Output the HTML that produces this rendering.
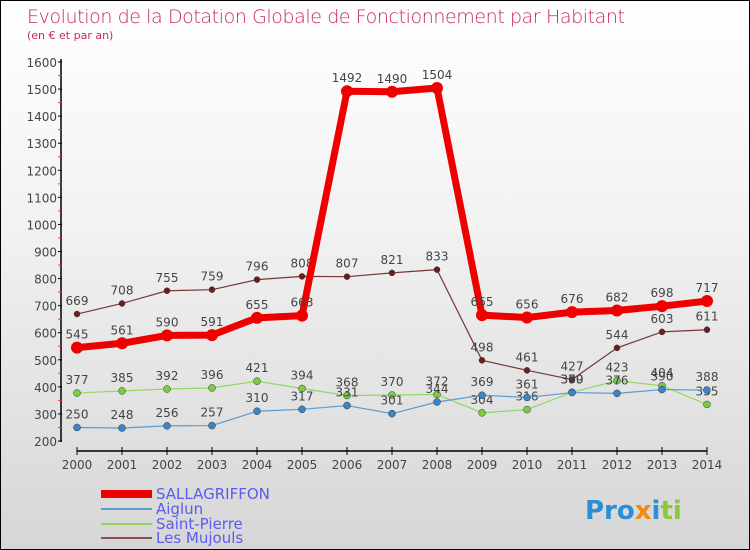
<!DOCTYPE html>
<html><head><meta charset="utf-8"><style>
body{margin:0}
#c{position:relative;width:748px;height:548px;border:1px solid #000;background:linear-gradient(#fff,#f2f2f2 40%,#d6d6d6);font-family:"DejaVu Sans","Liberation Sans",sans-serif;overflow:hidden}
</style></head><body>
<div id="c">
<svg width="748" height="548" id="s">
<text x="26" y="22" font-size="19" fill="#c8285a" font-weight="300" textLength="598">Evolution de la Dotation Globale de Fonctionnement par Habitant</text>
<text x="26" y="38" font-size="11" fill="#c8285a">(en € et par an)</text>
<g id="axes"></g><g id="series"></g>
<g font-size="15" fill="#5b5bf0">
<rect x="100" y="489" width="51" height="8" fill="#e00"/>
<text x="155" y="498">SALLAGRIFFON</text>
<line x1="100" x2="151" y1="508" y2="508" stroke="#5a9bd0" stroke-width="2"/>
<text x="155" y="513">Aiglun</text>
<line x1="100" x2="151" y1="523" y2="523" stroke="#8fd35a" stroke-width="2"/>
<text x="155" y="528">Saint-Pierre</text>
<line x1="100" x2="151" y1="537" y2="537" stroke="#8a5050" stroke-width="2"/>
<text x="155" y="542">Les Mujouls</text>
</g>
<text x="584" y="518" font-size="26" font-weight="bold"><tspan fill="#2a8fd8">Pro</tspan><tspan fill="#f08a10">x</tspan><tspan fill="#2a8fd8">i</tspan><tspan fill="#8cc83c">ti</tspan></text>
</svg>
</div>
<script>
const years=[2000,2001,2002,2003,2004,2005,2006,2007,2008,2009,2010,2011,2012,2013,2014];
const yTicks=[200,300,400,500,600,700,800,900,1000,1100,1200,1300,1400,1500,1600];
const sallagriffon=[545,561,590,591,655,663,1492,1490,1504,665,656,676,682,698,717];
const aiglun=[250,248,256,257,310,317,331,301,344,369,361,379,376,390,388];
const saintPierre=[377,385,392,396,421,394,368,370,372,304,316,380,423,404,335];
const lesMujouls=[669,708,755,759,796,808,807,821,833,498,461,427,544,603,611];
const NS="http://www.w3.org/2000/svg";
const xS=i=>76+i*45;
const yS=v=>440-(v-200)*(379/1400);
function mk(t,a,p){const e=document.createElementNS(NS,t);for(const k in a)e.setAttribute(k,a[k]);p.appendChild(e);return e;}
const ax=document.getElementById('axes');
const yl=mk('line',{x1:60,x2:60,y1:58,y2:441,stroke:'#000','stroke-width':1.5},ax);


yTicks.forEach(v=>{
  mk('line',{x1:57,x2:61,y1:yS(v),y2:yS(v),stroke:'#000'},ax);
  if(v<1600)mk('line',{x1:57,x2:60,y1:yS(v+50),y2:yS(v+50),stroke:'#f33'},ax);
  const t=mk('text',{x:56,y:yS(v)+5,'text-anchor':'end','font-size':12,fill:'#444'},ax);
  t.textContent=v;
  
  
});
const xl=mk('line',{x1:76,x2:706,y1:450,y2:450,stroke:'#000','stroke-width':1.5},ax);


years.forEach((y,i)=>{
  mk('line',{x1:xS(i),x2:xS(i),y1:446,y2:454,stroke:'#000'},ax);
  const t=mk('text',{x:xS(i),y:468,'text-anchor':'middle','font-size':12,fill:'#444'},ax);
  t.textContent=y;
  
  
});
const sg=document.getElementById('series');
function draw(vals,name,color,w,r,dot){
  const g=mk('g',{},sg);
  
  
  const pl=mk('polyline',{points:vals.map((v,i)=>xS(i)+','+yS(v)).join(' '),fill:'none',stroke:color,'stroke-width':w,'stroke-linejoin':'round'},g);
  
  
  vals.forEach((v,i)=>{
    const c=mk('circle',{cx:xS(i),cy:yS(v),r:r,fill:dot,stroke:'#333','stroke-width':dot===color?0:0.5},g);
    
    
    const t=mk('text',{x:xS(i),y:yS(v)-9,'text-anchor':'middle','font-size':12,fill:'#444'},g);
    t.textContent=v;
    
    
  });
}
draw(lesMujouls,'les-mujouls','#7a3535',1.2,3,'#6a1e1e');
draw(saintPierre,'saint-pierre','#90d860',1.2,3.5,'#7acc40');
draw(aiglun,'aiglun','#5a9bd0',1.2,3.5,'#3a85c8');
draw(sallagriffon,'sallagriffon','#e00',7,6,'#e00');
</script>
</body></html>
